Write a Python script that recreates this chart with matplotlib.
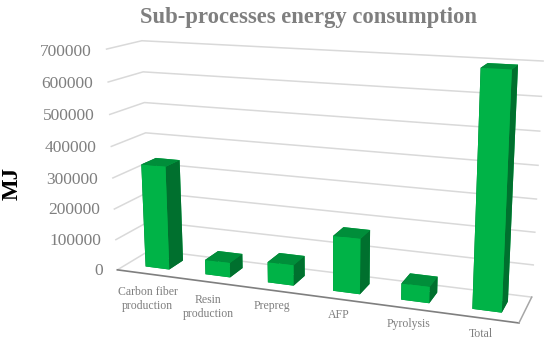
import matplotlib
matplotlib.use("Agg")
import matplotlib.pyplot as plt
import numpy as np
from mpl_toolkits.mplot3d import proj3d

plt.rcParams["font.family"] = ["Liberation Serif", "DejaVu Serif"]

categories = ["Carbon fiber\nproduction", "Resin\nproduction", "Prepreg", "AFP", "Pyrolysis", "Total"]
energy = [335000, 47000, 65000, 172000, 50000, 695000]
z_ticks = [0, 100000, 200000, 300000, 400000, 500000, 600000, 700000]

# where known corners of the chart box land in the image: (x, depth, z) -> pixel
box_points = [(0, 0, 0), (6, 0, 0), (6, 1, 0), (0, 1, 0),
              (0, 0, 700000), (0, 1, 700000), (6, 1, 700000),
              (0, 0, 100000), (0, 0, 400000), (0, 1, 400000), (6, 1, 100000)]
box_pixels = [(118, 270), (519, 323), (532, 297), (150, 250),
              (106, 49), (143, 40.5), (543, 61),
              (116, 239), (111, 147), (145, 133), (533, 265)]

FRONT = "#00B347"
TOP = "#008E3A"
SIDE = "#00702E"
GRID = "#D9D9D9"
TEXT = "#7F7F7F"

fig = plt.figure(figsize=(5.5, 3.42), dpi=100)
# mplot3d forces a square axes, so make it as wide as the figure
ax = fig.add_axes([0, -0.304, 1, 1.608], projection="3d", computed_zorder=False)
ax.set_axis_off()
ax.apply_aspect()


def camera():
    """Fit the projection from the box corners (plain DLT)."""
    pix = np.array(box_pixels, dtype=float)
    pix[:, 1] = 342 - pix[:, 1]
    uv = ax.transData.inverted().transform(pix)
    rows = []
    rhs = []
    for (x, y, z), (u, v) in zip(box_points, uv):
        z = z / 1e5
        rows.append([x, y, z, 1, 0, 0, 0, 0, -u * x, -u * y, -u * z])
        rows.append([0, 0, 0, 0, x, y, z, 1, -v * x, -v * y, -v * z])
        rhs += [u, v]
    p = np.linalg.lstsq(np.array(rows), np.array(rhs), rcond=None)[0]
    return np.array([[p[0], p[1], p[2] / 1e5, p[3]],
                     [p[4], p[5], p[6] / 1e5, p[7]],
                     [0, 0, 0, -1],
                     [p[8], p[9], p[10] / 1e5, 1]])


ax.get_proj = camera


def label(x, y, z, s, **kwargs):
    # flat text at the projected spot of a 3d point
    u, v, _ = proj3d.proj_transform(x, y, z, camera())
    ax.text2D(u, v, s, transform=ax.transData, color=TEXT, **kwargs)


# gridlines on the back and left walls
for z in z_ticks:
    ax.plot([0, 0, 6], [0, 1, 1], [z, z, z], color=GRID, lw=1.1, zorder=1)
    label(-0.25, 0, z - 10000, str(z), fontsize=12.5, ha="right", va="center")

# floor edges
ax.plot([0, 6], [0, 0], [0, 0], color="#7F7F7F", lw=1.2, zorder=2)
ax.plot([6, 6], [0, 1], [0, 0], color="#A6A6A6", lw=1.1, zorder=2)

# bars
xpos = np.arange(len(energy)) + 0.32
faces = [TOP, TOP, FRONT, FRONT, SIDE, SIDE]
ax.bar3d(xpos, 0.28, 0, 0.40, 0.44, energy, color=faces * len(energy), shade=False, zorder=3)

for i, name in enumerate(categories):
    drop = -41000 if "\n" in name else -30000
    label(i + 0.5, 0, drop, name, fontsize=8.5, ha="center", va="top")

fig.text(308.5 / 550, 1 - 18 / 342, "Sub-processes energy consumption", color=TEXT,
         fontsize=16.3, fontweight="bold", ha="center", va="center")
fig.text(12 / 550, 1 - 183 / 342, "MJ", color="black", fontsize=16.5, fontweight="bold",
         rotation=90, ha="center", va="center")

fig.savefig("out.png", dpi=100)
